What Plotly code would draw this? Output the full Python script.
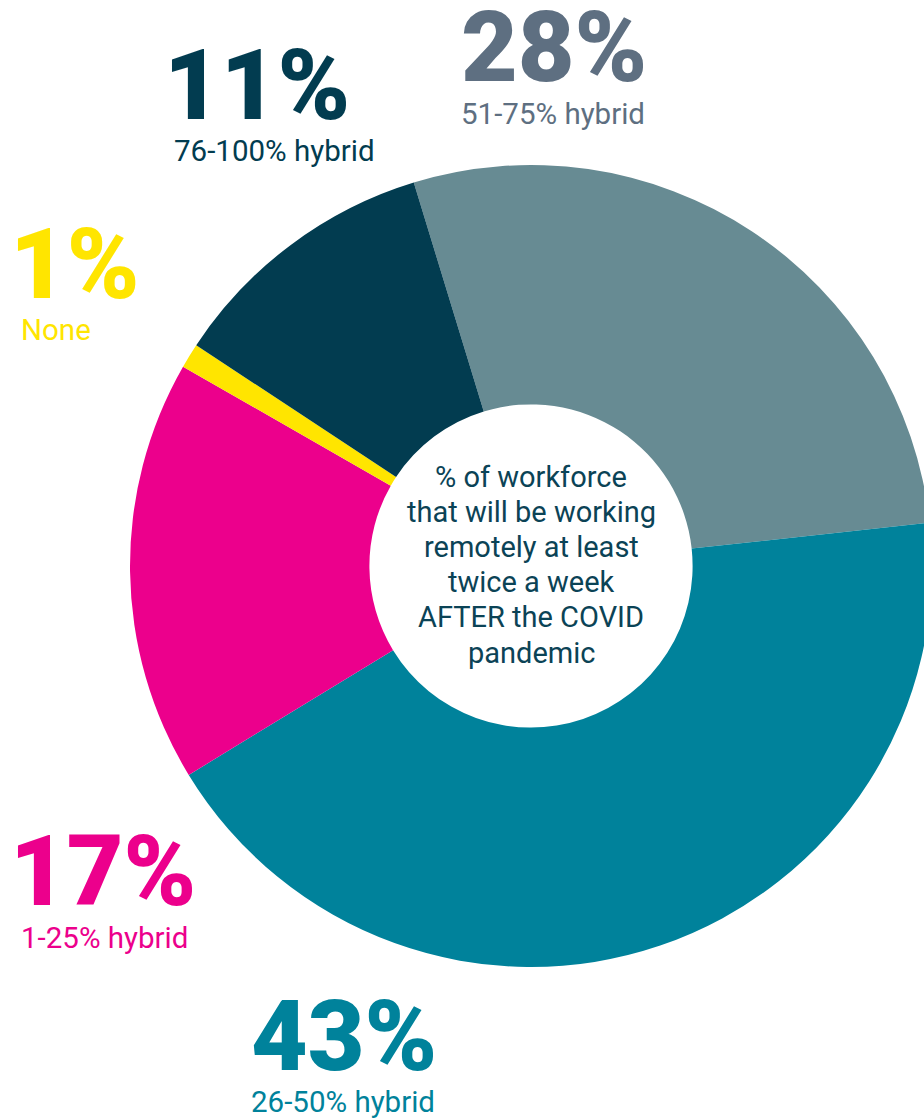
import plotly.graph_objects as go

# Share of workforce working remotely at least twice a week after the pandemic
segments = ["51-75% hybrid", "26-50% hybrid", "1-25% hybrid", "None", "76-100% hybrid"]
shares = [28, 43, 17, 1, 11]
slice_colors = ["#678b93", "#00829b", "#ec008c", "#ffe500", "#023c50"]
label_colors = ["#5e6f81", "#00829b", "#ec008c", "#ffe500", "#023c50"]

# label anchor (left edge x, big-number centre y, sub-label x, sub-label centre y) in pixels
label_pos = {
    "51-75% hybrid": (459, 47, 459, 114),
    "26-50% hybrid": (249, 1036, 249, 1102),
    "1-25% hybrid": (8, 871, 19, 938),
    "None": (8, 265, 19, 330),
    "76-100% hybrid": (162, 85, 172, 151),
}

centre_lines = ["% of workforce", "that will be working", "remotely at least",
                "twice a week", "AFTER the COVID", "pandemic"]

W, H = 940, 1118
cx, cy, R = 531, 566, 401

fig = go.Figure(go.Pie(
    labels=segments,
    values=shares,
    sort=False,
    direction="clockwise",
    rotation=-17,
    hole=0.403,
    marker=dict(colors=slice_colors, line=dict(width=0)),
    textinfo="none",
    hoverinfo="label+percent",
    showlegend=False,
    domain=dict(x=[(cx - R) / W, (cx + R) / W],
                y=[(H - cy - R) / H, (H - cy + R) / H]),
))

annotations = []
for seg, val, col in zip(segments, shares, label_colors):
    xb, ybig, xs, ysub = label_pos[seg]
    annotations.append(dict(
        x=xb / W, y=1 - ybig / H, xref="paper", yref="paper",
        xanchor="left", yanchor="middle", showarrow=False,
        text=f"{val}%",
        font=dict(family="Roboto", size=98, color=col, weight=900),
    ))
    annotations.append(dict(
        x=xs / W, y=1 - ysub / H, xref="paper", yref="paper",
        xanchor="left", yanchor="middle", showarrow=False,
        text=seg,
        font=dict(family="Roboto", size=29.5, color=col),
    ))

# centre caption, one line per annotation for tight line spacing
line_gap = 35.2
first_y = cy - 1.5 - line_gap * (len(centre_lines) - 1) / 2
for i, line in enumerate(centre_lines):
    annotations.append(dict(
        x=cx / W, y=1 - (first_y + i * line_gap) / H, xref="paper", yref="paper",
        xanchor="center", yanchor="middle", showarrow=False,
        text=line,
        font=dict(family="Roboto", size=29, color="#0b4356"),
    ))

fig.update_layout(
    width=W, height=H,
    margin=dict(l=0, r=0, t=0, b=0),
    paper_bgcolor="white",
    plot_bgcolor="white",
    annotations=annotations,
)

fig.write_html(
    "out.html",
    config={"displayModeBar": False},
    post_script=("document.documentElement.style.overflow='hidden';"
                 "document.body.style.overflow='hidden';"
                 "document.body.style.margin='0';"),
)
